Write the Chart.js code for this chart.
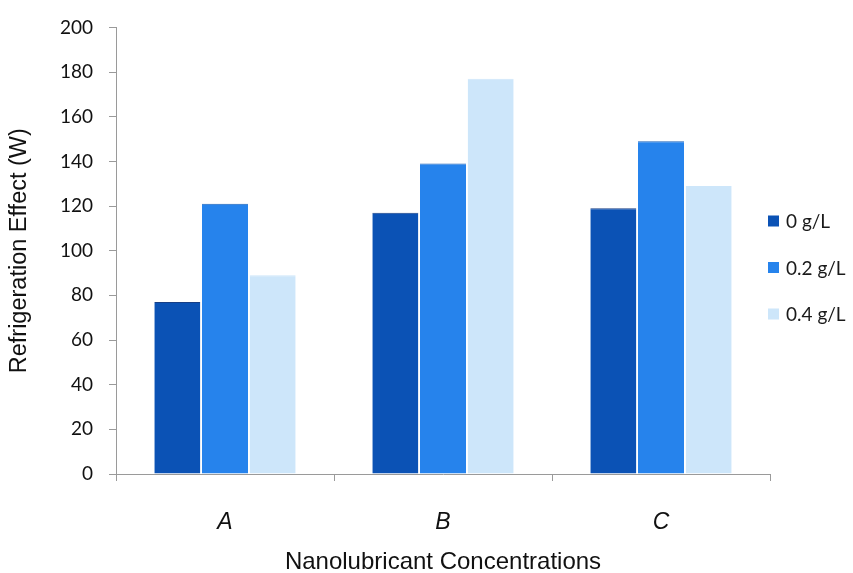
<!DOCTYPE html>
<html>
<head>
<meta charset="utf-8">
<title>Refrigeration Effect</title>
<script src="https://cdn.jsdelivr.net/npm/chart.js@4/dist/chart.umd.min.js"></script>
<style>
  html, body { margin: 0; padding: 0; background: #ffffff; }
  #wrap { width: 853px; height: 573px; }
</style>
</head>
<body>
<div id="wrap"><canvas id="chart" width="853" height="573"></canvas></div>
<script>
// Data
const categories = ['A', 'B', 'C'];
const seriesLabels = ['0 g/L', '0.2 g/L', '0.4 g/L'];
const effect0 = [77, 117, 119];      // 0 g/L
const effect02 = [121, 139, 149];    // 0.2 g/L
const effect04 = [89, 177, 129];     // 0.4 g/L
const yTickValues = [0, 20, 40, 60, 80, 100, 120, 140, 160, 180, 200];

// Styling
const fillColors = ['#0b52b5', '#2683ec', '#cde6fa'];
const edgeColors = ['#173f86', '#1c62b8', '#cde6fa'];
const axisGrey = '#9a9a9a';

const seriesValues = [effect0, effect02, effect04];

// Vertical legend drawn to the right of the plot
const sideLegend = {
  id: 'sideLegend',
  afterDraw(chart) {
    const ctx = chart.ctx;
    const boxX = 768, textX = 786, firstY = 221, step = 46.5, box = 11;
    ctx.save();
    ctx.font = '19px Lato, "Open Sans", sans-serif';
    ctx.textBaseline = 'middle';
    ctx.textAlign = 'left';
    chart.data.datasets.forEach((ds, i) => {
      const cy = firstY + i * step;
      ctx.fillStyle = ds.backgroundColor;
      ctx.fillRect(boxX, cy - box / 2, box, box);
      ctx.fillStyle = '#1a1a1a';
      ctx.fillText(ds.label, textX, cy + 1);
    });
    ctx.restore();
  }
};

new Chart(document.getElementById('chart'), {
  type: 'bar',
  data: {
    labels: categories,
    datasets: seriesLabels.map((label, i) => ({
      label,
      data: seriesValues[i],
      backgroundColor: fillColors[i],
      borderColor: edgeColors[i],
      borderWidth: { top: 1, right: 0, bottom: 0, left: 0 },
      categoryPercentage: 0.656,
      barPercentage: 0.965
    }))
  },
  options: {
    responsive: false,
    animation: false,
    devicePixelRatio: 1,
    layout: { padding: { top: 21, right: 83, bottom: 0, left: 0 } },
    plugins: {
      legend: { display: false },
      tooltip: { enabled: false }
    },
    scales: {
      x: {
        afterFit(scale) { scale.height = 99; },
        grid: {
          display: true,
          drawOnChartArea: false,
          drawTicks: true,
          tickLength: 7,
          color: axisGrey,
          offset: true
        },
        border: { display: true, color: axisGrey, width: 1 },
        ticks: {
          padding: 28,
          color: '#111111',
          font: { family: '"Liberation Sans", Arial, sans-serif', size: 23, style: 'italic' }
        },
        title: {
          display: true,
          text: 'Nanolubricant Concentrations',
          color: '#111111',
          padding: { top: 0, bottom: 0 },
          font: { family: '"Liberation Sans", Arial, sans-serif', size: 24, lineHeight: 0.85 }
        }
      },
      y: {
        min: 0,
        max: 200,
        afterFit(scale) { scale.width = 116; },
        afterBuildTicks(scale) { scale.ticks = yTickValues.map(v => ({ value: v })); },
        grid: {
          display: true,
          drawOnChartArea: false,
          drawTicks: true,
          tickLength: 7,
          color: axisGrey
        },
        border: { display: true, color: axisGrey, width: 1 },
        ticks: {
          padding: 16,
          color: '#111111',
          font: { family: 'Lato, "Open Sans", sans-serif', size: 19 }
        },
        title: {
          display: true,
          text: 'Refrigeration Effect (W)',
          color: '#111111',
          padding: { top: 5, bottom: 0 },
          font: { family: '"Liberation Sans", Arial, sans-serif', size: 23.5 }
        }
      }
    }
  },
  plugins: [sideLegend]
});
</script>
</body>
</html>
